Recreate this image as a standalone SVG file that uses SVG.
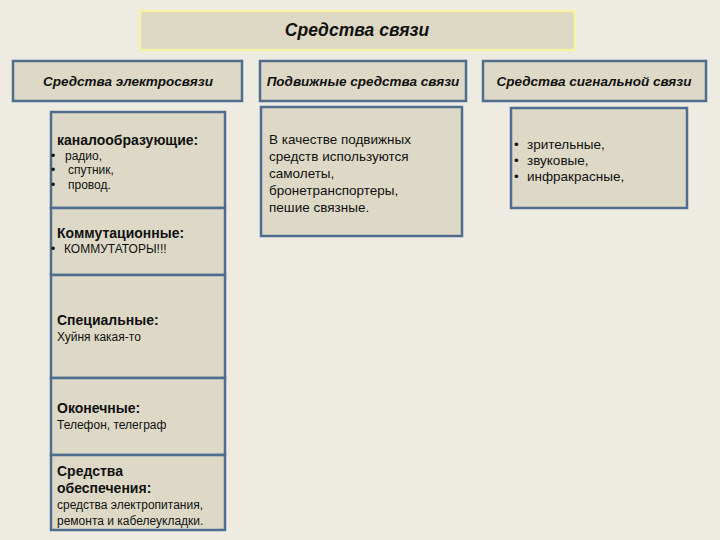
<svg xmlns="http://www.w3.org/2000/svg" width="720" height="540" viewBox="0 0 720 540">
<style>
.box{fill:#ddd9c6;stroke:#4f6d8f;stroke-width:2.5}
.t{font-family:"Liberation Sans",Arial,sans-serif;fill:#111}
.h{font-style:italic;font-weight:bold;font-size:13.5px;text-anchor:middle}
.b{font-weight:bold;font-size:14px}
.s{font-size:12px}
.m{font-size:13.5px}
</style>
<rect width="720" height="540" fill="#eeebe3"/>
<g id="title">
<rect x="140" y="11" width="435" height="39" fill="#ddd8c3" stroke="#f7f3a6" stroke-width="2.5"/>
<text class="t" x="357" y="36" text-anchor="middle" font-size="17.5" font-weight="bold" font-style="italic">Средства связи</text>
</g>
<g id="electro">
<rect class="box" x="13" y="61" width="229" height="40"/>
<text class="t h" x="128" y="86">Средства электросвязи</text>
</g>
<g id="mobile">
<rect class="box" x="260" y="61" width="206" height="40"/>
<text class="t h" x="363" y="86">Подвижные средства связи</text>
</g>
<g id="signal">
<rect class="box" x="483" y="61" width="223" height="40"/>
<text class="t h" x="594" y="86">Средства сигнальной связи</text>
</g>
<g id="kanal">
<rect class="box" x="51" y="112" width="174" height="96"/>
<text class="t b" x="57" y="145">каналообразующие:</text>
<text class="t s" x="51" y="160">•</text><text class="t s" x="65" y="160">радио,</text>
<text class="t s" x="51" y="174">•</text><text class="t s" x="68" y="174">спутник,</text>
<text class="t s" x="51" y="189">•</text><text class="t s" x="68" y="189">провод.</text>
</g>
<g id="kommut">
<rect class="box" x="51" y="208" width="174" height="67"/>
<text class="t b" x="57" y="238">Коммутационные:</text>
<text class="t s" x="51" y="253">•</text><text class="t s" x="64" y="253">КОММУТАТОРЫ!!!</text>
</g>
<g id="spec">
<rect class="box" x="51" y="275" width="174" height="103"/>
<text class="t b" x="57" y="325">Специальные:</text>
<text class="t s" x="57" y="341">Хуйня какая-то</text>
</g>
<g id="okon">
<rect class="box" x="51" y="378" width="174" height="77"/>
<text class="t b" x="57" y="413">Оконечные:</text>
<text class="t s" x="57" y="429">Телефон, телеграф</text>
</g>
<g id="obesp">
<rect class="box" x="51" y="455" width="174" height="75"/>
<text class="t b" x="57" y="476">Средства</text>
<text class="t b" x="57" y="493">обеспечения:</text>
<text class="t s" x="57" y="509">средства электропитания,</text>
<text class="t s" x="57" y="525">ремонта и кабелеукладки.</text>
</g>
<g id="mobile-desc">
<rect class="box" x="261" y="107" width="201" height="129"/>
<text class="t m" x="269" y="144">В качестве подвижных</text>
<text class="t m" x="269" y="161">средств используются</text>
<text class="t m" x="269" y="178">самолеты,</text>
<text class="t m" x="269" y="195">бронетранспортеры,</text>
<text class="t m" x="269" y="212">пешие связные.</text>
</g>
<g id="signal-desc">
<rect class="box" x="511" y="108" width="176" height="100"/>
<text class="t m" x="514" y="149">•</text><text class="t m" x="527" y="149">зрительные,</text>
<text class="t m" x="514" y="165">•</text><text class="t m" x="527" y="165">звуковые,</text>
<text class="t m" x="514" y="181">•</text><text class="t m" x="527" y="181">инфракрасные,</text>
</g>
<g id="connectors"/>
</svg>
